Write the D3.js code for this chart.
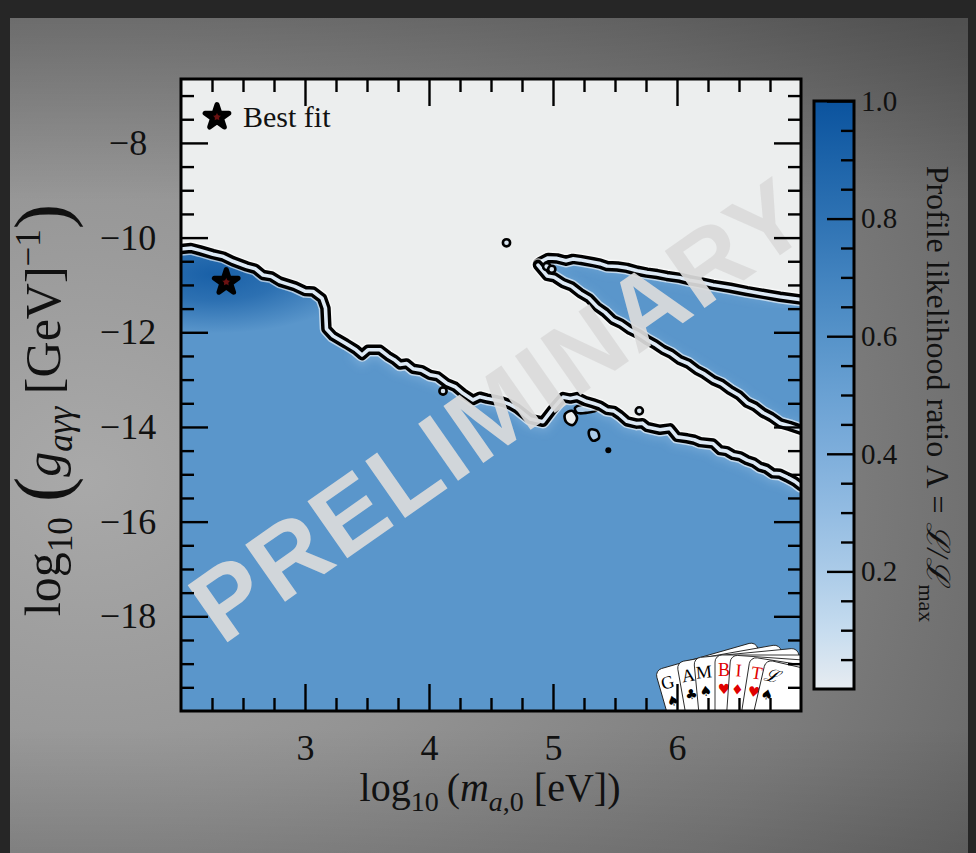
<!DOCTYPE html>
<html><head><meta charset="utf-8">
<script src="https://cdn.jsdelivr.net/npm/d3@7"></script>
<style>body{margin:0;background:#262626;}svg{display:block}</style>
</head><body><svg id="c" width="976" height="853"></svg>
<script>
// ---------------- DATA ----------------
const xDomain = [2, 7];
const yDomain = [-20, -6.65];
const xMajorTicks = [3, 4, 5, 6];
const xMinorTicks = [2.25,2.5,2.75,3.25,3.5,3.75,4.25,4.5,4.75,5.25,5.5,5.75,6.25,6.5,6.75];
const yMajorTicks = [-18, -16, -14, -12, -10, -8];
const yMinorTicks = [-19.5,-19,-18.5,-17.5,-17,-16.5,-15.5,-15,-14.5,-13.5,-13,-12.5,-11.5,-11,-10.5,-9.5,-9,-8.5,-7.5,-7];
const cbMajorTicks = [0.2, 0.4, 0.6, 0.8, 1.0];
const cbMinorTicks = [0.05,0.1,0.15,0.25,0.3,0.35,0.45,0.5,0.55,0.65,0.7,0.75,0.85,0.9,0.95];

// colour map (profile likelihood ratio -> colour)
const cmapStops  = [0.0, 0.1, 0.2, 0.3, 0.4, 0.5, 0.6, 0.7, 0.8, 0.9, 1.0];
const cmapColors = ["#e7ecf1","#c6dcef","#abcbe8","#93bce2","#7eaedb","#6aa1d3","#5693c9","#4283bf","#2e72b3","#1c63a9","#0b539e"];

// boundary of the lower allowed region  [log10 m, log10 g]
const lowerEdge = [
 [2.000,-10.24],[2.080,-10.22],[2.153,-10.27],[2.258,-10.35],[2.340,-10.40],[2.419,-10.50],[2.532,-10.61],
 [2.600,-10.66],[2.661,-10.79],[2.730,-10.82],[2.798,-10.93],[2.919,-11.03],[3.000,-11.13],[3.065,-11.14],
 [3.137,-11.28],[3.165,-11.49],[3.173,-11.93],[3.226,-12.08],[3.331,-12.24],[3.411,-12.37],[3.460,-12.48],
 [3.508,-12.37],[3.605,-12.37],[3.669,-12.50],[3.720,-12.58],[3.766,-12.68],[3.820,-12.66],[3.871,-12.77],
 [3.940,-12.80],[4.008,-12.90],[4.070,-12.93],[4.145,-13.08],[4.210,-13.15],[4.274,-13.29],[4.355,-13.43],
 [4.410,-13.36],[4.468,-13.40],[4.530,-13.43],[4.597,-13.47],[4.650,-13.52],[4.710,-13.61],[4.815,-13.83],
 [4.919,-13.89],[4.992,-13.64],[5.081,-13.37],[5.140,-13.40],[5.194,-13.37],[5.260,-13.45],[5.323,-13.50],
 [5.380,-13.55],[5.435,-13.64],[5.490,-13.66],[5.540,-13.75],[5.597,-13.88],[5.677,-13.93],[5.720,-13.92],
 [5.758,-14.00],[5.863,-14.06],[5.944,-14.03],[6.000,-14.21],[6.081,-14.24],[6.140,-14.27],[6.185,-14.32],
 [6.290,-14.35],[6.347,-14.49],[6.400,-14.51],[6.452,-14.59],[6.510,-14.62],[6.565,-14.70],[6.620,-14.75],
 [6.669,-14.84],[6.720,-14.88],[6.774,-14.98],[6.830,-14.99],[6.887,-15.06],[6.950,-15.15],[7.000,-15.25]
];
// upper wedge-shaped allowed region
const wedgeTop = [
 [4.879,-10.55],[4.895,-10.52],[4.960,-10.43],[5.032,-10.44],[5.105,-10.49],[5.160,-10.45],[5.218,-10.47],
 [5.323,-10.52],[5.380,-10.55],[5.435,-10.60],[5.520,-10.61],[5.597,-10.64],[5.680,-10.70],[5.758,-10.74],
 [5.840,-10.77],[5.919,-10.81],[6.024,-10.85],[6.100,-10.90],[6.185,-10.94],[6.290,-11.00],[6.430,-11.06],
 [6.565,-11.13],[6.700,-11.19],[6.831,-11.25],[7.000,-11.31]
];
const wedgeBottom = [
 [4.879,-10.58],[4.952,-10.81],[5.010,-10.84],[5.081,-10.96],[5.150,-11.03],[5.218,-11.17],[5.290,-11.28],
 [5.355,-11.46],[5.420,-11.58],[5.484,-11.74],[5.550,-11.82],[5.621,-11.95],[5.690,-12.04],[5.758,-12.16],
 [5.820,-12.25],[5.887,-12.37],[5.950,-12.45],[6.024,-12.59],[6.090,-12.66],[6.161,-12.80],[6.220,-12.88],
 [6.290,-13.01],[6.360,-13.09],[6.427,-13.22],[6.500,-13.33],[6.565,-13.49],[6.630,-13.57],[6.694,-13.70],
 [6.760,-13.79],[6.831,-13.92],[6.910,-13.98],[7.000,-14.06]
];
// small closed contours near the edge
const islandA = [[5.177,-13.60],[5.242,-13.53],[5.339,-13.56],[5.355,-13.64],[5.274,-13.70],[5.194,-13.70]];
const islandB = [[5.097,-13.73],[5.153,-13.66],[5.194,-13.81],[5.161,-13.96],[5.105,-13.89]];
const islandC = [[5.298,-14.06],[5.355,-14.08],[5.371,-14.23],[5.323,-14.29],[5.290,-14.17]];
const islandLambda = [0.2, 0.0, 0.2];
const ringDots = [[4.625,-10.11],[4.113,-13.24],[5.696,-13.66],[4.949,-10.61],[4.990,-10.67]];
const solidDots = [[5.446,-14.49]];
const bestFit = [2.365, -10.94];
const regionLambda = 0.58;
const peakLambda = 0.92;
const edgeLambda = 0.3;

// GAMBIT logo cards
const cardLetters = ["G","A","M","B","I","T","ℒ"];
const cardSuits   = ["♠","♣","♠","♥","♦","♥","♠"];
const cardRed     = [false,false,false,true,true,true,false];
const cardAngles  = [-16,-10,-5.5,0,4,9,13];
const cardRadii   = [218,221,223,225,225.6,226,226.3];

// ---------------- LAYOUT ----------------
const W = 976, H = 853;
const M = {left:181, top:79, right:801, bottom:711};
const pw = M.right - M.left, ph = M.bottom - M.top;
const x = d3.scaleLinear().domain(xDomain).range([0, pw]);
const y = d3.scaleLinear().domain(yDomain).range([ph, 0]);
const color = d3.scaleLinear().domain(cmapStops).range(cmapColors).interpolate(d3.interpolateRgb);
const line = d3.line().x(d => x(d[0])).y(d => y(d[1]));
const SERIF = "'Liberation Serif','Times New Roman',serif";

const svg = d3.select("#c");
const defs = svg.append("defs");

// background
const bg = defs.append("radialGradient").attr("id","bgG").attr("cx",0.08).attr("cy",0.55).attr("r",1.05);
[[0,"#a9a9a9"],[0.4,"#939393"],[0.75,"#7c7c7c"],[1,"#666"]].forEach(s=>bg.append("stop").attr("offset",s[0]).attr("stop-color",s[1]));
svg.append("rect").attr("width",W).attr("height",H).attr("fill","#262626");
svg.append("rect").attr("x",10).attr("y",18).attr("width",958).attr("height",H-18).attr("fill","url(#bgG)");
const topShade = defs.append("linearGradient").attr("id","topS").attr("x1",0).attr("y1",0).attr("x2",0).attr("y2",1);
[[0,"#000",0.22],[0.22,"#000",0],[0.85,"#000",0],[1,"#000",0.12]].forEach(s=>topShade.append("stop").attr("offset",s[0]).attr("stop-color",s[1]).attr("stop-opacity",s[2]));
svg.append("rect").attr("x",10).attr("y",18).attr("width",958).attr("height",H-18).attr("fill","url(#topS)");

// clips
defs.append("clipPath").attr("id","plotClip").append("rect").attr("width",pw).attr("height",ph);
const lowerPoly = lowerEdge.concat([[xDomain[1],yDomain[0]],[xDomain[0],yDomain[0]]]);
const wedgePoly = wedgeTop.concat(wedgeBottom.slice().reverse());
defs.append("clipPath").attr("id","lowerClip").append("path").attr("d", line(lowerPoly)+"Z");
defs.append("clipPath").attr("id","wedgeClip").append("path").attr("d", line(wedgePoly)+"Z");
defs.append("filter").attr("id","blur").attr("x",-0.2).attr("y",-0.2).attr("width",1.4).attr("height",1.4)
  .append("feGaussianBlur").attr("stdDeviation",4);
const pk = defs.append("radialGradient").attr("id","peakG");
[[0,1],[0.45,0.7],[1,0]].forEach(s=>pk.append("stop").attr("offset",s[0]).attr("stop-color",color(peakLambda)).attr("stop-opacity",s[1]));

const g = svg.append("g").attr("transform",`translate(${M.left},${M.top})`);
const pl = g.append("g").attr("clip-path","url(#plotClip)");
pl.append("rect").attr("width",pw).attr("height",ph).attr("fill","#eceeee");

// lower region
pl.append("path").attr("d", line(lowerPoly)+"Z").attr("fill", color(regionLambda));
const lowG = pl.append("g").attr("clip-path","url(#lowerClip)");
lowG.append("path").attr("d", line(lowerEdge.filter(d=>d[0]>3.4))).attr("fill","none").attr("stroke",color(edgeLambda))
  .attr("stroke-width",18).attr("stroke-opacity",0.45).attr("filter","url(#blur)");
lowG.append("ellipse").attr("cx",x(bestFit[0])-12).attr("cy",y(bestFit[1])-8)
  .attr("rx",x(xDomain[0]+1.2)-x(xDomain[0])).attr("ry",y(yDomain[1]-1.25)-y(yDomain[1]))
  .attr("fill","url(#peakG)");

// wedge
pl.append("path").attr("d", line(wedgePoly)+"Z").attr("fill", color(regionLambda));
const wG = pl.append("g").attr("clip-path","url(#wedgeClip)");
[wedgeTop, wedgeBottom].forEach(e => wG.append("path").attr("d", line(e)).attr("fill","none")
  .attr("stroke",color(edgeLambda)).attr("stroke-width",14).attr("stroke-opacity",0.3).attr("filter","url(#blur)"));

// islands
[islandA, islandB, islandC].forEach((isl,i) => {
  pl.append("path").attr("d", d3.line().x(d=>x(d[0])).y(d=>y(d[1])).curve(d3.curveCatmullRomClosed)(isl))
    .attr("fill", i===1 ? "#eceeee" : color(islandLambda[i])).attr("stroke","#000").attr("stroke-width",2.6);
});

// contour lines (double line style)
function contour(pts){
  const d = line(pts);
  pl.append("path").attr("d",d).attr("fill","none").attr("stroke","#fff").attr("stroke-opacity",0.6)
    .attr("stroke-width",13.5).attr("stroke-linejoin","round").attr("stroke-linecap","round");
  pl.append("path").attr("d",d).attr("fill","none").attr("stroke","#000")
    .attr("stroke-width",10.5).attr("stroke-linejoin","round").attr("stroke-linecap","round");
  pl.append("path").attr("d",d).attr("fill","none").attr("stroke","#dde9f5")
    .attr("stroke-width",3.6).attr("stroke-linejoin","round").attr("stroke-linecap","round");
}
contour(lowerEdge); contour(wedgeTop); contour(wedgeBottom);

pl.selectAll(".ring").data(ringDots).enter().append("circle")
  .attr("cx",d=>x(d[0])).attr("cy",d=>y(d[1])).attr("r",3.6)
  .attr("fill","#d8e4ef").attr("stroke","#000").attr("stroke-width",2.6);
pl.selectAll(".sdot").data(solidDots).enter().append("circle")
  .attr("cx",d=>x(d[0])).attr("cy",d=>y(d[1])).attr("r",3).attr("fill","#000");

// best fit star
const star = d3.symbol().type(d3.symbolStar).size(175);
pl.append("path").attr("d",star()).attr("transform",`translate(${x(bestFit[0])},${y(bestFit[1])})`)
  .attr("fill","#6b1212").attr("stroke","#000").attr("stroke-width",5).attr("stroke-linejoin","round");

// GAMBIT logo
const logo = pl.append("g").attr("transform",`translate(${pw-86},${ph+169})`);
cardLetters.forEach((L,i) => {
  const c = logo.append("g").attr("transform",`rotate(${cardAngles[i]})`);
  const R = cardRadii[i];
  c.append("rect").attr("x",0).attr("y",-R).attr("width",105).attr("height",170).attr("rx",7)
    .attr("fill","#fff").attr("stroke","#222").attr("stroke-width",0.9);
  c.append("text").attr("x",9).attr("y",-R+21).attr("text-anchor","middle")
    .attr("font-family",SERIF).attr("font-size",18).attr("font-style", L==="ℒ"?"italic":"normal")
    .attr("fill",cardRed[i]?"#e00000":"#000").text(L);
  c.append("text").attr("x",9).attr("y",-R+39).attr("text-anchor","middle")
    .attr("font-family","'DejaVu Sans',sans-serif").attr("font-size",14)
    .attr("fill",cardRed[i]?"#e00000":"#000").text(cardSuits[i]);
});

// watermark
pl.append("text").attr("transform",`translate(${pw*0.545},${ph*0.568}) rotate(-35)`)
  .attr("text-anchor","middle").attr("font-family","'Liberation Sans',Arial,sans-serif")
  .attr("font-weight","bold").attr("font-size",101).attr("letter-spacing",3)
  .attr("fill","#dadada").attr("fill-opacity",0.93).text("PRELIMINARY");

// legend
const lg = g.append("g").attr("transform","translate(36,38)");
lg.append("path").attr("d",star()).attr("fill","#6b1212").attr("stroke","#000").attr("stroke-width",5).attr("stroke-linejoin","round");
lg.append("text").attr("x",26).attr("y",10).attr("font-family",SERIF).attr("font-size",30).attr("fill","#111").text("Best fit");

// axes
function styleAxis(sel, fs){
  sel.select(".domain").remove();
  sel.selectAll(".tick line").attr("stroke","#000").attr("stroke-width",2.4);
  sel.selectAll(".tick text").attr("font-family",SERIF).attr("font-size",fs).attr("fill","#111");
}
const fmtY = d => (d<0?"\u2212":"") + Math.abs(d);
g.append("g").attr("transform",`translate(0,${ph})`).call(d3.axisBottom(x).tickValues(xMajorTicks).tickSize(-27).tickPadding(23).tickFormat(d3.format("d"))).call(s=>styleAxis(s,36));
g.append("g").attr("transform",`translate(0,${ph})`).call(d3.axisBottom(x).tickValues(xMinorTicks).tickSize(-13).tickFormat("")).call(s=>styleAxis(s,36));
g.append("g").call(d3.axisTop(x).tickValues(xMajorTicks).tickSize(-27).tickFormat("")).call(s=>styleAxis(s,36));
g.append("g").call(d3.axisTop(x).tickValues(xMinorTicks).tickSize(-13).tickFormat("")).call(s=>styleAxis(s,36));
g.append("g").call(d3.axisLeft(y).tickValues(yMajorTicks).tickSize(-27).tickPadding(53).tickFormat(fmtY))
  .call(s=>styleAxis(s,36)).call(s=>s.selectAll(".tick text").attr("text-anchor","middle"));
g.append("g").call(d3.axisLeft(y).tickValues(yMinorTicks).tickSize(-13).tickFormat("")).call(s=>styleAxis(s,36));
g.append("g").attr("transform",`translate(${pw},0)`).call(d3.axisRight(y).tickValues(yMajorTicks).tickSize(-27).tickFormat("")).call(s=>styleAxis(s,36));
g.append("g").attr("transform",`translate(${pw},0)`).call(d3.axisRight(y).tickValues(yMinorTicks).tickSize(-13).tickFormat("")).call(s=>styleAxis(s,36));
g.append("rect").attr("width",pw).attr("height",ph).attr("fill","none").attr("stroke","#000").attr("stroke-width",3);

// axis labels
const xl = svg.append("text").attr("x",490).attr("y",801).attr("text-anchor","middle")
  .attr("font-family",SERIF).attr("font-size",40).attr("fill","#111");
xl.append("tspan").text("log");
xl.append("tspan").attr("font-size",28).attr("dy",10).text("10");
xl.append("tspan").attr("dy",-10).text("\u2009(");
xl.append("tspan").attr("font-style","italic").text("m");
xl.append("tspan").attr("font-size",28).attr("dy",10).attr("font-style","italic").text("a");
xl.append("tspan").attr("font-size",28).text(",0");
xl.append("tspan").attr("dy",-10).text(" [eV])");

const yl = svg.append("text").attr("transform","translate(60,410) rotate(-90)").attr("text-anchor","middle")
  .attr("font-family",SERIF).attr("font-size",50).attr("fill","#111");
yl.append("tspan").text("log");
yl.append("tspan").attr("font-size",35).attr("dy",12).text("10");
yl.append("tspan").attr("font-size",76).attr("dy",-5).text("\u2009(");
yl.append("tspan").attr("dy",-7).attr("font-style","italic").text("g");
yl.append("tspan").attr("font-size",35).attr("dy",12).attr("font-style","italic").text("aγγ");
yl.append("tspan").attr("dy",-12).text(" [GeV]");
yl.append("tspan").attr("font-size",35).attr("dy",-20).text("\u22121");
yl.append("tspan").attr("font-size",76).attr("dy",27).text(")");

// colour bar
const cb = {x:814, y:101, w:40, h:588};
const cy = d3.scaleLinear().domain([0,1]).range([cb.y+cb.h, cb.y]);
const cg = defs.append("linearGradient").attr("id","cbG").attr("x1",0).attr("y1",1).attr("x2",0).attr("y2",0);
cmapStops.forEach((s,i)=>cg.append("stop").attr("offset",s).attr("stop-color",cmapColors[i]));
svg.append("rect").attr("x",cb.x).attr("y",cb.y).attr("width",cb.w).attr("height",cb.h).attr("fill","url(#cbG)");
const cba = svg.append("g").attr("transform",`translate(${cb.x+cb.w},0)`);
cba.append("g").call(d3.axisRight(cy).tickValues(cbMajorTicks).tickSize(-27).tickPadding(7).tickFormat(d3.format(".1f"))).call(s=>styleAxis(s,29));
cba.append("g").call(d3.axisRight(cy).tickValues(cbMinorTicks).tickSize(-13).tickFormat("")).call(s=>styleAxis(s,29));
svg.append("rect").attr("x",cb.x).attr("y",cb.y).attr("width",cb.w).attr("height",cb.h).attr("fill","none").attr("stroke","#000").attr("stroke-width",3);

const cl = svg.append("text").attr("transform","translate(927,394) rotate(90)").attr("text-anchor","middle")
  .attr("font-family",SERIF).attr("font-size",32).attr("fill","#111");
cl.append("tspan").text("Profile likelihood ratio \u039b = ");
cl.append("tspan").attr("font-style","italic").text("ℒ/ℒ");
cl.append("tspan").attr("font-size",22).attr("dy",8).text("max");
</script></body></html>
